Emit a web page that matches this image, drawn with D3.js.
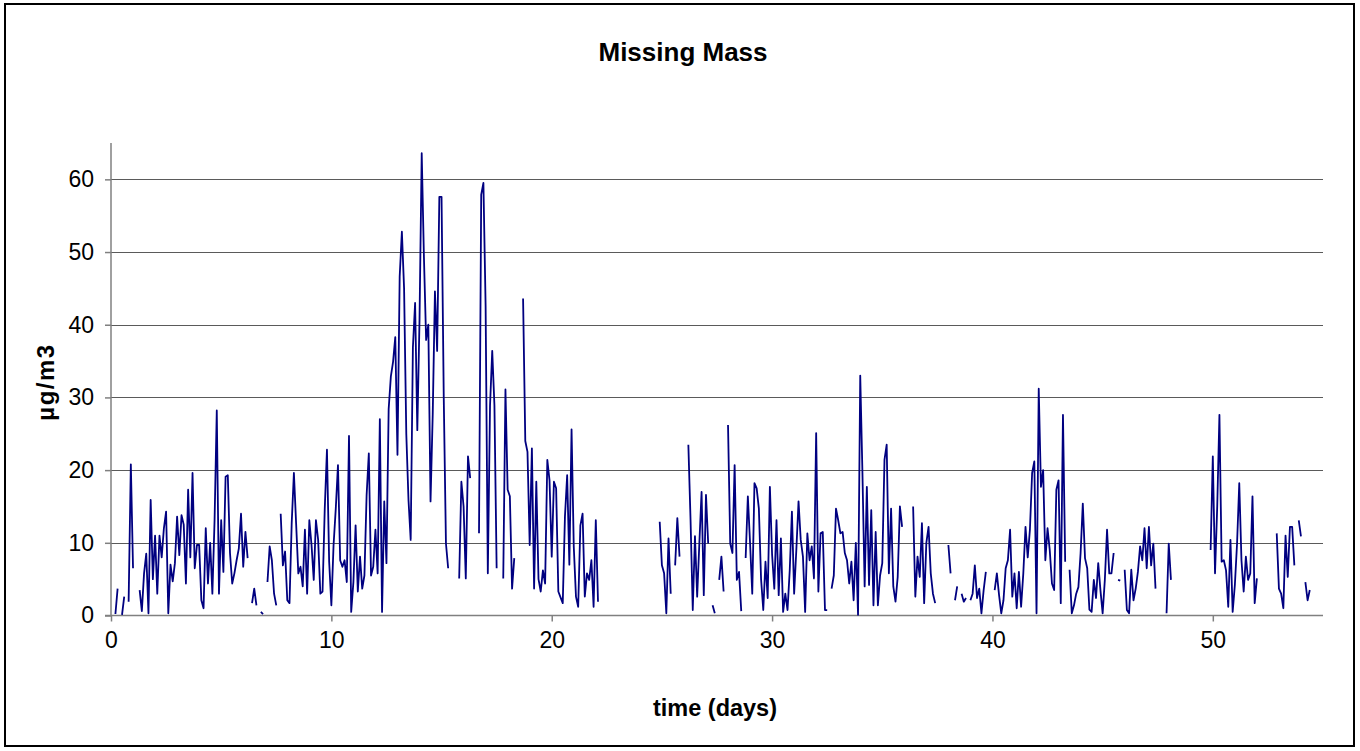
<!DOCTYPE html>
<html>
<head>
<meta charset="utf-8">
<script src="https://cdn.jsdelivr.net/npm/d3@7/dist/d3.min.js"></script>
<style>
  html, body { margin: 0; padding: 0; background: #fff; }
  svg { display: block; }
  text { font-family: "Liberation Sans", Arial, sans-serif; }
</style>
</head>
<body>
<svg id="chart" width="1360" height="751"></svg>
<script>
const N = null;
// Missing mass (µg/m3), sampled every 0.1 day; each array covers 5 days
const mm00 = [N,N,0.2,3.7,N,0.1,2.6,N,1.9,20.8, 6.5,N,N,3.5,0.6,5.8,8.5,0.3,15.9,5, 11,3,11,8,12,14.3,0.3,7,4.7,7.2, 13.6,8.3,13.8,12.5,4.4,17.3,8,19.6,6.5,9.7, 9.7,2.1,1,12,4.4,10,3,13.1,28.2,3];
const mm05 = [13.1,6,19.1,19.3,8.6,4.4,5.8,7.6,9.2,14, 6.7,11.5,7.9,N,1.7,3.7,1.4,N,0.5,0.2, N,4.6,9.5,7.6,3,1.4,N,14,6.9,8.8, 2.1,1.7,12.7,19.6,12.7,5.8,6.7,4,11.8,3, 13.1,9.7,4.9,13.1,10.4,3,3.3,14.7,22.8,7.4];
const mm10 = [1.4,9.7,14.7,20.7,7.6,6.7,7.6,4.6,24.7,0.5, 4.6,12.4,3.3,8.1,3.7,5.5,16.6,22.3,5.5,6.7, 11.8,5.8,27,0.5,15.7,7.2,28.4,32.9,34.9,38.3, 22.1,46.6,52.8,45,25,15.9,10.4,36.9,43,25.5, 40.6,63.6,49.4,37.9,40,15.7,27.7,44.6,36.4,57.6];
const mm15 = [57.6,30,9.9,6.5,N,N,N,N,5.1,18.4, 15,5.1,21.9,18.9,N,N,N,11.3,57.9,59.5, 42.5,5.8,28.9,36.4,28.9,6.5,N,N,5.1,31.1, 17.3,16.4,3.7,7.9,N,N,N,43.6,24,22.5, 9.7,23,3.7,18.4,5,3.3,6.2,4.4,21.4,18.6];
const mm20 = [8.1,18.4,17.5,3.3,2.5,1.7,13.6,19.3,7,25.6, 9.5,2.6,1.2,12.4,14,2.6,5.8,4.9,7.6,1.2, 13.1,1.9,N,N,N,N,N,N,N,N, N,N,N,N,N,N,N,N,N,N, N,N,N,N,N,N,N,N,N,12.9];
const mm25 = [6.9,5.8,0.3,10.6,3,N,6.9,13.4,8.1,N, N,N,23.5,13.1,0.75,10.9,2.6,10,17,2.8, 16.6,9.9,N,1.4,0.3,N,4.9,8.1,3.3,N, 26.2,9.9,8.6,20.7,4.9,6,0.6,N,7.9,16.4, 10,3,18.2,17.5,14.7,5,0.75,7.4,2.4,17.7];
const mm30 = [8.4,3.7,13.1,2.8,10.6,0.5,3,0.75,6.2,14.3, 3,9,15.7,10.4,8.1,0.5,11.3,7.6,9.5,5.1, 25.1,3.3,11.3,11.5,0.75,0.75,N,3.7,5.5,14.7, 13.1,11.3,11.5,8.6,7.6,4.4,7.4,2.1,10,0.1, 33,19.6,4,17.7,4.2,14.5,1.4,11.5,1.4,5.5];
const mm35 = [7.2,21.4,23.5,5.8,14.7,4,1.9,5.3,15,12.2, N,N,N,N,15,2.6,8.1,5.3,12.7,1.7, 10,12.2,5.8,3,1.7,N,N,N,N,N, 9.7,5.8,N,2.1,4,N,3,1.9,2.4,N, 2.1,3,6.9,2.4,3.7,0.3,3.5,6,N,N];
const mm40 = [N,3.5,5.8,2.8,0.3,2.1,6.5,7.6,11.8,2.6, 5.8,1,6,1.2,5.8,12.2,8,11.8,19.6,21.2, 0.3,31.2,17.7,20,7.6,12,9,4.4,3.5,17.3, 18.6,1.7,27.6,7.4,N,6.3,0.3,1.4,3,3.9, 8.6,15.4,7.9,6.5,0.8,0.5,4.9,2.4,7.2,3.5];
const mm45 = [0.3,4.9,11.8,5.8,5.8,8.6,N,4.9,4.8,N, 6.3,0.75,0.3,6.3,2.1,3.7,6,9.5,7.6,12, 6.5,12.2,6.9,9.9,3.7,N,N,N,N,0.3, 9.9,4.9,N,N,N,N,N,N,N,N, N,N,N,N,N,N,N,N,N,9];
const mm50 = [21.9,5.8,15,27.6,7.4,7.6,6.2,1.2,10.4,0.5, 4.2,9.9,18.2,7.6,3.3,8.1,4.9,5.8,16.4,1.7, 5.1,N,N,N,N,N,N,N,N,11.3, 3.7,3,1,11,5.3,12.2,12.2,6.9,N,13.1, 10.9,N,4.6,2.1,3.5];

const chunks = [mm00, mm05, mm10, mm15, mm20, mm25, mm30, mm35, mm40, mm45, mm50];
const series = chunks.flatMap((arr, k) => arr.map((v, i) => ({ t: (k * 50 + i) / 10, v })));

const xTicks = [0, 10, 20, 30, 40, 50];
const yTicks = [0, 10, 20, 30, 40, 50, 60];
const title = "Missing Mass";
const xTitle = "time (days)";
const yTitle = "µg/m3";

const svg = d3.select("#chart");
svg.append("rect").attr("width", 1360).attr("height", 751).attr("fill", "#fff");
svg.append("rect").attr("x", 5).attr("y", 4).attr("width", 1349).attr("height", 742)
  .attr("fill", "none").attr("stroke", "#000").attr("stroke-width", 2);

const L = 111, R = 1323, T = 143, B = 615.5;
const x = d3.scaleLinear().domain([0, 55]).range([L, R]);
const y = d3.scaleLinear().domain([0, 65]).range([B, T]);

// gridlines
svg.append("g").selectAll("line").data(yTicks.filter(d => d > 0)).join("line")
  .attr("x1", L).attr("x2", R)
  .attr("y1", d => Math.round(y(d)) + 0.5).attr("y2", d => Math.round(y(d)) + 0.5)
  .attr("stroke", "#5a5a5a").attr("stroke-width", 1);

// axes
const yAxis = svg.append("g").attr("transform", `translate(${L},0)`)
  .call(d3.axisLeft(y).tickValues(yTicks).tickSize(6).tickPadding(11).tickFormat(d3.format("d")));
const xAxis = svg.append("g").attr("transform", `translate(0,${B})`)
  .call(d3.axisBottom(x).tickValues(xTicks).tickSize(6).tickPadding(10).tickFormat(d3.format("d")));
[yAxis, xAxis].forEach(g => {
  g.select(".domain").attr("stroke", "#808080").attr("stroke-width", 1.5);
  g.selectAll(".tick line").attr("stroke", "#808080").attr("stroke-width", 1.5);
  g.selectAll(".tick text").attr("fill", "#000").attr("font-size", 23)
    .attr("font-family", "'Liberation Sans', Arial, sans-serif");
});
yAxis.select(".domain").attr("d", `M0,${B}V${T}`);
xAxis.select(".domain").attr("d", `M${L - 6},0H${R}`);

// line
const line = d3.line().defined(d => d.v !== null).x(d => x(d.t)).y(d => y(d.v));
svg.append("path").datum(series).attr("d", line)
  .attr("fill", "none").attr("stroke", "#000080").attr("stroke-width", 1.8)
  .attr("stroke-linejoin", "round");

// titles
svg.append("text").attr("x", 683).attr("y", 61).attr("text-anchor", "middle")
  .attr("font-size", 26).attr("font-weight", "bold").text(title);
svg.append("text").attr("x", 715).attr("y", 716).attr("text-anchor", "middle")
  .attr("font-size", 23.5).attr("font-weight", "bold").text(xTitle);
svg.append("text").attr("transform", "translate(54,382) rotate(-90)").attr("text-anchor", "middle")
  .attr("font-size", 24).attr("font-weight", "bold").attr("letter-spacing", 1.5).text(yTitle);
</script>
</body>
</html>
